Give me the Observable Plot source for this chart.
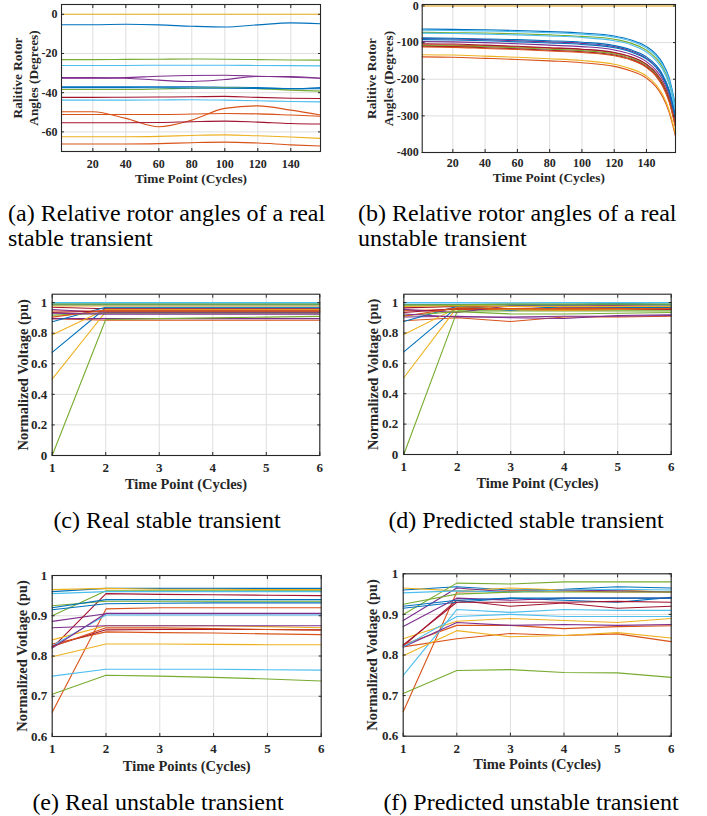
<!DOCTYPE html>
<html><head><meta charset="utf-8">
<script src="https://cdn.jsdelivr.net/npm/d3@7"></script>
<script src="https://cdn.jsdelivr.net/npm/@observablehq/plot@0.6"></script>
<style>
html,body{margin:0;padding:0;background:#fff;}
body{width:707px;height:816px;position:relative;overflow:hidden;font-family:"Liberation Serif","Times New Roman",serif;}
.panel{position:absolute;}
.panel svg{overflow:visible;}
#caps{position:absolute;left:0;top:0;}
</style></head><body>
<div id="pa" class="panel" style="left:0px;top:0px"></div>
<div id="pb" class="panel" style="left:350px;top:0px"></div>
<div id="pc" class="panel" style="left:0px;top:285px"></div>
<div id="pd" class="panel" style="left:350px;top:285px"></div>
<div id="pe" class="panel" style="left:0px;top:560px"></div>
<div id="pf" class="panel" style="left:350px;top:560px"></div>
<script>
// ---------- MATLAB default colour order ----------
const palette = ["#0072BD","#D95319","#EDB120","#7E2F8E","#77AC30","#4DBEEE","#A2142F"];

// ---------- (a) real stable transient, rotor angles ----------
const aX = [1, 20, 40, 60, 80, 100, 120, 140, 158];
const aAngles = [
  [-5.3, -5.3, -5.1, -5.4, -6.1, -6.5, -5.4, -4.4, -4.8],
  [-49.7, -49.7, -53.1, -57.4, -54.0, -48.0, -46.7, -48.9, -51.4],
  [0, 0, 0, 0, 0, 0, 0, 0, 0],
  [-32.3, -32.3, -32.6, -33.6, -34.3, -33.3, -31.7, -31.7, -32.6],
  [-23.1, -23.1, -23.0, -22.9, -22.8, -22.9, -23.1, -23.3, -23.4],
  [-26.1, -26.1, -26.1, -26.0, -26.0, -26.0, -26.1, -26.2, -26.3],
  [-42.4, -42.4, -42.3, -42.2, -42.1, -41.9, -42.4, -42.8, -43.0],
  [-37.0, -37.0, -37.0, -37.0, -37.0, -37.2, -37.4, -38.0, -37.4],
  [-51.1, -51.1, -51.1, -51.1, -50.9, -50.6, -50.8, -51.4, -52.0],
  [-62.5, -62.5, -62.5, -62.3, -61.8, -61.5, -62.0, -62.6, -63.3],
  [-32.6, -32.6, -32.3, -31.6, -31.2, -31.1, -31.6, -32.1, -32.6],
  [-38.4, -38.4, -38.4, -38.1, -37.7, -37.5, -37.9, -38.7, -39.2],
  [-43.8, -43.8, -43.8, -43.7, -43.6, -43.8, -44.1, -44.5, -44.7],
  [-55.3, -55.3, -55.3, -55.2, -54.8, -54.5, -55.0, -55.7, -56.0],
  [-37.4, -37.4, -37.4, -37.5, -37.6, -37.7, -37.8, -37.9, -38.0],
  [-66.2, -66.2, -66.2, -66.0, -65.5, -65.2, -65.7, -66.6, -67.2]
];
const aXTicks = [20, 40, 60, 80, 100, 120, 140];
const aYTicks = [-60, -40, -20, 0];

// ---------- (b) real unstable transient, rotor angles ----------
const bX = [1, 20, 40, 60, 80, 100, 120, 130, 140, 146, 150, 154, 158];
const bAngles = [
  [-63, -64, -65, -67, -70, -74, -82, -92, -111, -132, -156, -195, -272],
  [-106, -107, -109, -112, -115, -119, -128, -139, -160, -184, -210, -252, -322],
  [0, 0, 0, 0, 0, 0, 0, 0, 0, 0, 0, 0, 0],
  [-89, -90, -92, -95, -98, -102, -111, -122, -143, -166, -191, -232, -302],
  [-72, -73, -74, -76, -79, -83, -91, -101, -121, -143, -167, -207, -282],
  [-66, -67, -68, -70, -73, -77, -85, -95, -115, -137, -161, -200, -277],
  [-103, -104, -107, -110, -114, -118, -127, -138, -159, -183, -209, -250, -318],
  [-87, -88, -90, -92, -95, -99, -108, -119, -139, -162, -187, -228, -297],
  [-139, -140, -143, -146, -150, -155, -165, -177, -197, -221, -248, -290, -356],
  [-133, -134, -137, -140, -144, -149, -159, -171, -191, -215, -242, -284, -350],
  [-97, -98, -100, -103, -107, -111, -120, -131, -152, -176, -201, -242, -310],
  [-108, -109, -111, -114, -118, -122, -131, -142, -163, -187, -213, -255, -325],
  [-74, -75, -77, -79, -82, -86, -95, -105, -126, -149, -173, -214, -288],
  [-110, -111, -114, -117, -121, -125, -134, -145, -166, -190, -216, -258, -328],
  [-92, -93, -95, -98, -101, -105, -114, -125, -145, -168, -194, -235, -305],
  [-112, -113, -116, -119, -123, -127, -136, -147, -168, -192, -219, -261, -332]
];
const bYTicks = [-400, -300, -200, -100, 0];

// ---------- (c) real stable transient, voltages ----------
const cdX = [1, 2, 3, 4, 5, 6];
const cVolt = [
  [0.675, 0.965, 0.965, 0.965, 0.965, 0.965],
  [0.895, 0.885, 0.885, 0.885, 0.885, 0.885],
  [0.50, 0.94, 0.94, 0.94, 0.94, 0.94],
  [0.895, 0.895, 0.895, 0.895, 0.895, 0.895],
  [0.0, 0.89, 0.895, 0.90, 0.905, 0.91],
  [1.0, 1.0, 1.0, 1.0, 1.0, 1.0],
  [0.97, 0.96, 0.96, 0.96, 0.96, 0.96],
  [0.875, 0.97, 0.97, 0.97, 0.97, 0.97],
  [0.945, 0.945, 0.945, 0.945, 0.945, 0.945],
  [0.79, 0.955, 0.955, 0.955, 0.955, 0.955],
  [0.955, 0.935, 0.935, 0.935, 0.935, 0.935],
  [0.918, 0.93, 0.93, 0.93, 0.93, 0.93],
  [0.993, 0.993, 0.993, 0.993, 0.993, 0.993],
  [0.935, 0.945, 0.945, 0.945, 0.945, 0.945],
  [0.985, 0.985, 0.985, 0.985, 0.985, 0.985],
  [0.905, 0.95, 0.95, 0.95, 0.95, 0.95],
  [0.978, 0.978, 0.978, 0.978, 0.978, 0.978],
  [0.93, 0.925, 0.925, 0.925, 0.925, 0.925],
  [0.99, 0.99, 0.99, 0.99, 0.99, 0.99]
];

// ---------- (d) predicted stable transient, voltages ----------
const dVolt = [
  [0.675, 0.97, 0.975, 0.975, 0.975, 0.975],
  [0.88, 0.90, 0.875, 0.905, 0.905, 0.91],
  [0.505, 0.97, 0.96, 0.955, 0.955, 0.96],
  [0.905, 0.91, 0.90, 0.895, 0.915, 0.92],
  [0.0, 0.945, 0.945, 0.945, 0.945, 0.945],
  [1.0, 1.0, 0.998, 1.0, 1.0, 1.0],
  [0.965, 0.975, 0.975, 0.97, 0.97, 0.965],
  [0.875, 0.975, 0.95, 0.975, 0.97, 0.965],
  [0.945, 0.955, 0.955, 0.95, 0.955, 0.955],
  [0.79, 0.965, 0.955, 0.95, 0.955, 0.955],
  [0.955, 0.935, 0.98, 0.985, 0.98, 0.975],
  [0.915, 0.94, 0.925, 0.925, 0.93, 0.935],
  [0.99, 0.99, 0.99, 0.99, 0.995, 0.99],
  [0.935, 0.96, 0.96, 0.96, 0.96, 0.955],
  [0.985, 0.985, 0.985, 0.985, 0.99, 0.985],
  [0.91, 0.965, 0.96, 0.96, 0.96, 0.96],
  [0.975, 0.98, 0.975, 0.975, 0.975, 0.975],
  [0.925, 0.905, 0.905, 0.91, 0.91, 0.915],
  [0.985, 0.985, 0.99, 0.99, 0.99, 0.99]
];
const cdYTicks = [0, 0.2, 0.4, 0.6, 0.8, 1];

// ---------- (e) real unstable transient, voltages ----------
const efX = [1, 2, 3, 4, 5, 6];
const eVolt = [
  [0.96, 0.968, 0.968, 0.968, 0.968, 0.968],
  [0.66, 0.917, 0.92, 0.92, 0.92, 0.92],
  [0.965, 0.968, 0.966, 0.966, 0.965, 0.965],
  [0.886, 0.905, 0.905, 0.905, 0.905, 0.905],
  [0.90, 0.962, 0.962, 0.962, 0.962, 0.962],
  [0.955, 0.96, 0.96, 0.96, 0.96, 0.96],
  [0.82, 0.955, 0.953, 0.952, 0.951, 0.95],
  [0.915, 0.93, 0.931, 0.932, 0.932, 0.932],
  [0.83, 0.86, 0.858, 0.857, 0.855, 0.853],
  [0.84, 0.875, 0.875, 0.875, 0.873, 0.87],
  [0.87, 0.875, 0.875, 0.875, 0.875, 0.875],
  [0.925, 0.936, 0.936, 0.936, 0.936, 0.936],
  [0.825, 0.902, 0.902, 0.902, 0.902, 0.902],
  [0.825, 0.865, 0.866, 0.866, 0.866, 0.865],
  [0.92, 0.94, 0.94, 0.94, 0.94, 0.94],
  [0.823, 0.87, 0.87, 0.868, 0.866, 0.864],
  [0.798, 0.83, 0.83, 0.829, 0.828, 0.828],
  [0.82, 0.906, 0.906, 0.906, 0.906, 0.906],
  [0.705, 0.752, 0.75, 0.747, 0.743, 0.738],
  [0.75, 0.767, 0.767, 0.767, 0.766, 0.765]
];

// ---------- (f) predicted unstable transient, voltages ----------
const fVolt = [
  [0.96, 0.968, 0.96, 0.962, 0.968, 0.965],
  [0.66, 0.955, 0.958, 0.958, 0.955, 0.955],
  [0.965, 0.958, 0.965, 0.96, 0.96, 0.955],
  [0.885, 0.965, 0.955, 0.96, 0.958, 0.955],
  [0.90, 0.977, 0.975, 0.98, 0.98, 0.98],
  [0.953, 0.958, 0.955, 0.96, 0.962, 0.96],
  [0.822, 0.935, 0.92, 0.928, 0.915, 0.92],
  [0.915, 0.93, 0.94, 0.935, 0.93, 0.942],
  [0.825, 0.873, 0.873, 0.865, 0.87, 0.872],
  [0.84, 0.883, 0.89, 0.885, 0.88, 0.89],
  [0.87, 0.94, 0.935, 0.94, 0.94, 0.94],
  [0.925, 0.95, 0.955, 0.955, 0.955, 0.955],
  [0.75, 0.912, 0.905, 0.912, 0.91, 0.91],
  [0.825, 0.93, 0.93, 0.93, 0.932, 0.93],
  [0.92, 0.935, 0.94, 0.94, 0.94, 0.94],
  [0.82, 0.84, 0.853, 0.848, 0.852, 0.833],
  [0.798, 0.86, 0.845, 0.848, 0.855, 0.842],
  [0.82, 0.88, 0.873, 0.875, 0.873, 0.875],
  [0.705, 0.762, 0.764, 0.757, 0.756, 0.745],
  [0.82, 0.895, 0.9, 0.895, 0.895, 0.895]
];
const efYTicks = [0.6, 0.7, 0.8, 0.9, 1];
const voltXTicks = [1, 2, 3, 4, 5, 6];

// ---------- texts ----------
const angleYLabel = "Ralitive Rotor\nAngles (Degrees)";
const timeLabel = "Time Point (Cycles)";
const timesLabel = "Time Points (Cycles)";
const voltLabel = "Normalized Voltage (pu)";
const votlLabel = "Normalized Votlage (pu)";
const captions = [
  {lines: ["(a) Relative rotor angles of a real", "stable transient"], x: 8, anchor: "start", y: 221},
  {lines: ["(b) Relative rotor angles of a real", "unstable transient"], x: 358, anchor: "start", y: 221},
  {lines: ["(c) Real stable transient"], x: 167, anchor: "middle", y: 528},
  {lines: ["(d) Predicted stable transient"], x: 526, anchor: "middle", y: 528},
  {lines: ["(e) Real unstable transient"], x: 158, anchor: "middle", y: 810},
  {lines: ["(f) Predicted unstable transient"], x: 531, anchor: "middle", y: 810}
];

function panel(o) {
  const names = o.ys.map((_, i) => "s" + i);
  const data = o.ys.flatMap((vals, i) => vals.map((v, j) => ({x: o.xs[j], y: v, s: names[i]})));
  const fmt = d => String(d);
  const blank = () => "";
  const axisCol = "#262626";
  const p = Plot.plot({
    width: o.width, height: o.height,
    marginLeft: o.ml, marginRight: o.mr, marginTop: o.mt, marginBottom: o.mb,
    style: {fontFamily: "'Liberation Serif', serif", fontSize: o.fs + "px", fontWeight: "bold", color: axisCol, background: "transparent", overflow: "visible"},
    x: {domain: o.xDomain, label: null},
    y: {domain: o.yDomain, label: null},
    color: {domain: names, range: names.map((_, i) => palette[i % palette.length])},
    marks: [
      Plot.ruleX(o.xTicks, {stroke: "#dedede", strokeWidth: 1}),
      Plot.ruleY(o.yTicks, {stroke: "#dedede", strokeWidth: 1}),
      Plot.line(data, {x: "x", y: "y", z: "s", stroke: "s", strokeWidth: 1.1, curve: o.curve}),
      Plot.frame({stroke: axisCol, strokeWidth: 1.1}),
      Plot.axisX(o.xTicks, {anchor: "bottom", tickSize: -3, tickFormat: blank, label: null, stroke: axisCol}),
      Plot.axisX(o.xTicks, {anchor: "top", tickSize: -3, tickFormat: blank, label: null, stroke: axisCol}),
      Plot.axisY(o.yTicks, {anchor: "left", tickSize: -3, tickFormat: blank, label: null, stroke: axisCol}),
      Plot.axisY(o.yTicks, {anchor: "right", tickSize: -3, tickFormat: blank, label: null, stroke: axisCol}),
      Plot.axisX(o.xTicks, {anchor: "bottom", tickSize: 0, tickPadding: o.padX, tickFormat: fmt, label: null, fill: axisCol}),
      Plot.axisY(o.yTicks, {anchor: "left", tickSize: 0, tickPadding: o.padY, tickFormat: fmt, label: null, fill: axisCol}),
      Plot.text([o.xLabel], {frameAnchor: "bottom", dy: o.xTitleDy, textAnchor: "middle", lineAnchor: "middle",
        fontSize: o.lfs, fontWeight: "bold", fill: axisCol, text: d => d}),
      Plot.text([o.yLabel], {frameAnchor: "left", dx: -o.yTitleDx, rotate: -90, textAnchor: "middle", lineAnchor: "middle",
        fontSize: o.lfs, fontWeight: "bold", lineHeight: o.lh || 1.1, fill: axisCol, text: d => d})
    ]
  });
  document.getElementById(o.el).append(p);
}

panel({el: "pa", width: 340, height: 190, ml: 61, mr: 20, mt: 4, mb: 39,
  xs: aX, ys: aAngles, xDomain: [1, 158], yDomain: [-70, 5], xTicks: aXTicks, yTicks: aYTicks,
  fs: 12, lfs: 13.3, padX: 8, padY: 4, xTitleDy: 27, yTitleDx: 36.5, lh: 1.15,
  xLabel: timeLabel, yLabel: angleYLabel, curve: "monotone-x"});
panel({el: "pb", width: 357, height: 190, ml: 71.7, mr: 32, mt: 4, mb: 38,
  xs: bX, ys: bAngles, xDomain: [1, 158], yDomain: [-400, 4], xTicks: aXTicks, yTicks: bYTicks,
  fs: 12, lfs: 13.3, padX: 6, padY: 3.5, xTitleDy: 25.7, yTitleDx: 43.2, lh: 1.25,
  xLabel: timeLabel, yLabel: angleYLabel, curve: "monotone-x"});
panel({el: "pc", width: 340, height: 220, ml: 51.7, mr: 20.7, mt: 8.7, mb: 50,
  xs: cdX, ys: cVolt, xDomain: [1, 6], yDomain: [0, 1.055], xTicks: voltXTicks, yTicks: cdYTicks,
  fs: 13, lfs: 14.5, padX: 7, padY: 5, xTitleDy: 29, yTitleDx: 29.2,
  xLabel: timeLabel, yLabel: voltLabel, curve: "linear"});
panel({el: "pd", width: 357, height: 220, ml: 53.3, mr: 36.3, mt: 8.7, mb: 51,
  xs: cdX, ys: dVolt, xDomain: [1, 6], yDomain: [0, 1.055], xTicks: voltXTicks, yTicks: cdYTicks,
  fs: 13, lfs: 14.5, padX: 7, padY: 5.5, xTitleDy: 29, yTitleDx: 31.3,
  xLabel: timeLabel, yLabel: voltLabel, curve: "linear"});
panel({el: "pe", width: 340, height: 220, ml: 51.7, mr: 19.3, mt: 15, mb: 44,
  xs: efX, ys: eVolt, xDomain: [1, 6], yDomain: [0.6, 1], xTicks: voltXTicks, yTicks: efYTicks,
  fs: 13, lfs: 14.5, padX: 7.4, padY: 5, xTitleDy: 30, yTitleDx: 30.7,
  xLabel: timesLabel, yLabel: votlLabel, curve: "linear"});
panel({el: "pf", width: 357, height: 220, ml: 52.7, mr: 36.3, mt: 13.3, mb: 44.3,
  xs: efX, ys: fVolt, xDomain: [1, 6], yDomain: [0.6, 1], xTicks: voltXTicks, yTicks: efYTicks,
  fs: 13, lfs: 14.5, padX: 7.4, padY: 5, xTitleDy: 28.5, yTitleDx: 31,
  xLabel: timesLabel, yLabel: votlLabel, curve: "linear"});

// ---------- sub-captions ----------
const capSvg = d3.select("body").append("svg").attr("id", "caps")
  .attr("width", 707).attr("height", 816)
  .style("pointer-events", "none");
for (const c of captions) {
  const t = capSvg.append("text")
    .attr("x", c.x).attr("y", c.y)
    .attr("text-anchor", c.anchor)
    .attr("font-family", "'Liberation Serif', serif")
    .attr("font-size", 24)
    .attr("fill", "#000");
  c.lines.forEach((ln, i) => t.append("tspan").attr("x", c.x).attr("dy", i === 0 ? 0 : 25).text(ln));
}
</script>
</body></html>
